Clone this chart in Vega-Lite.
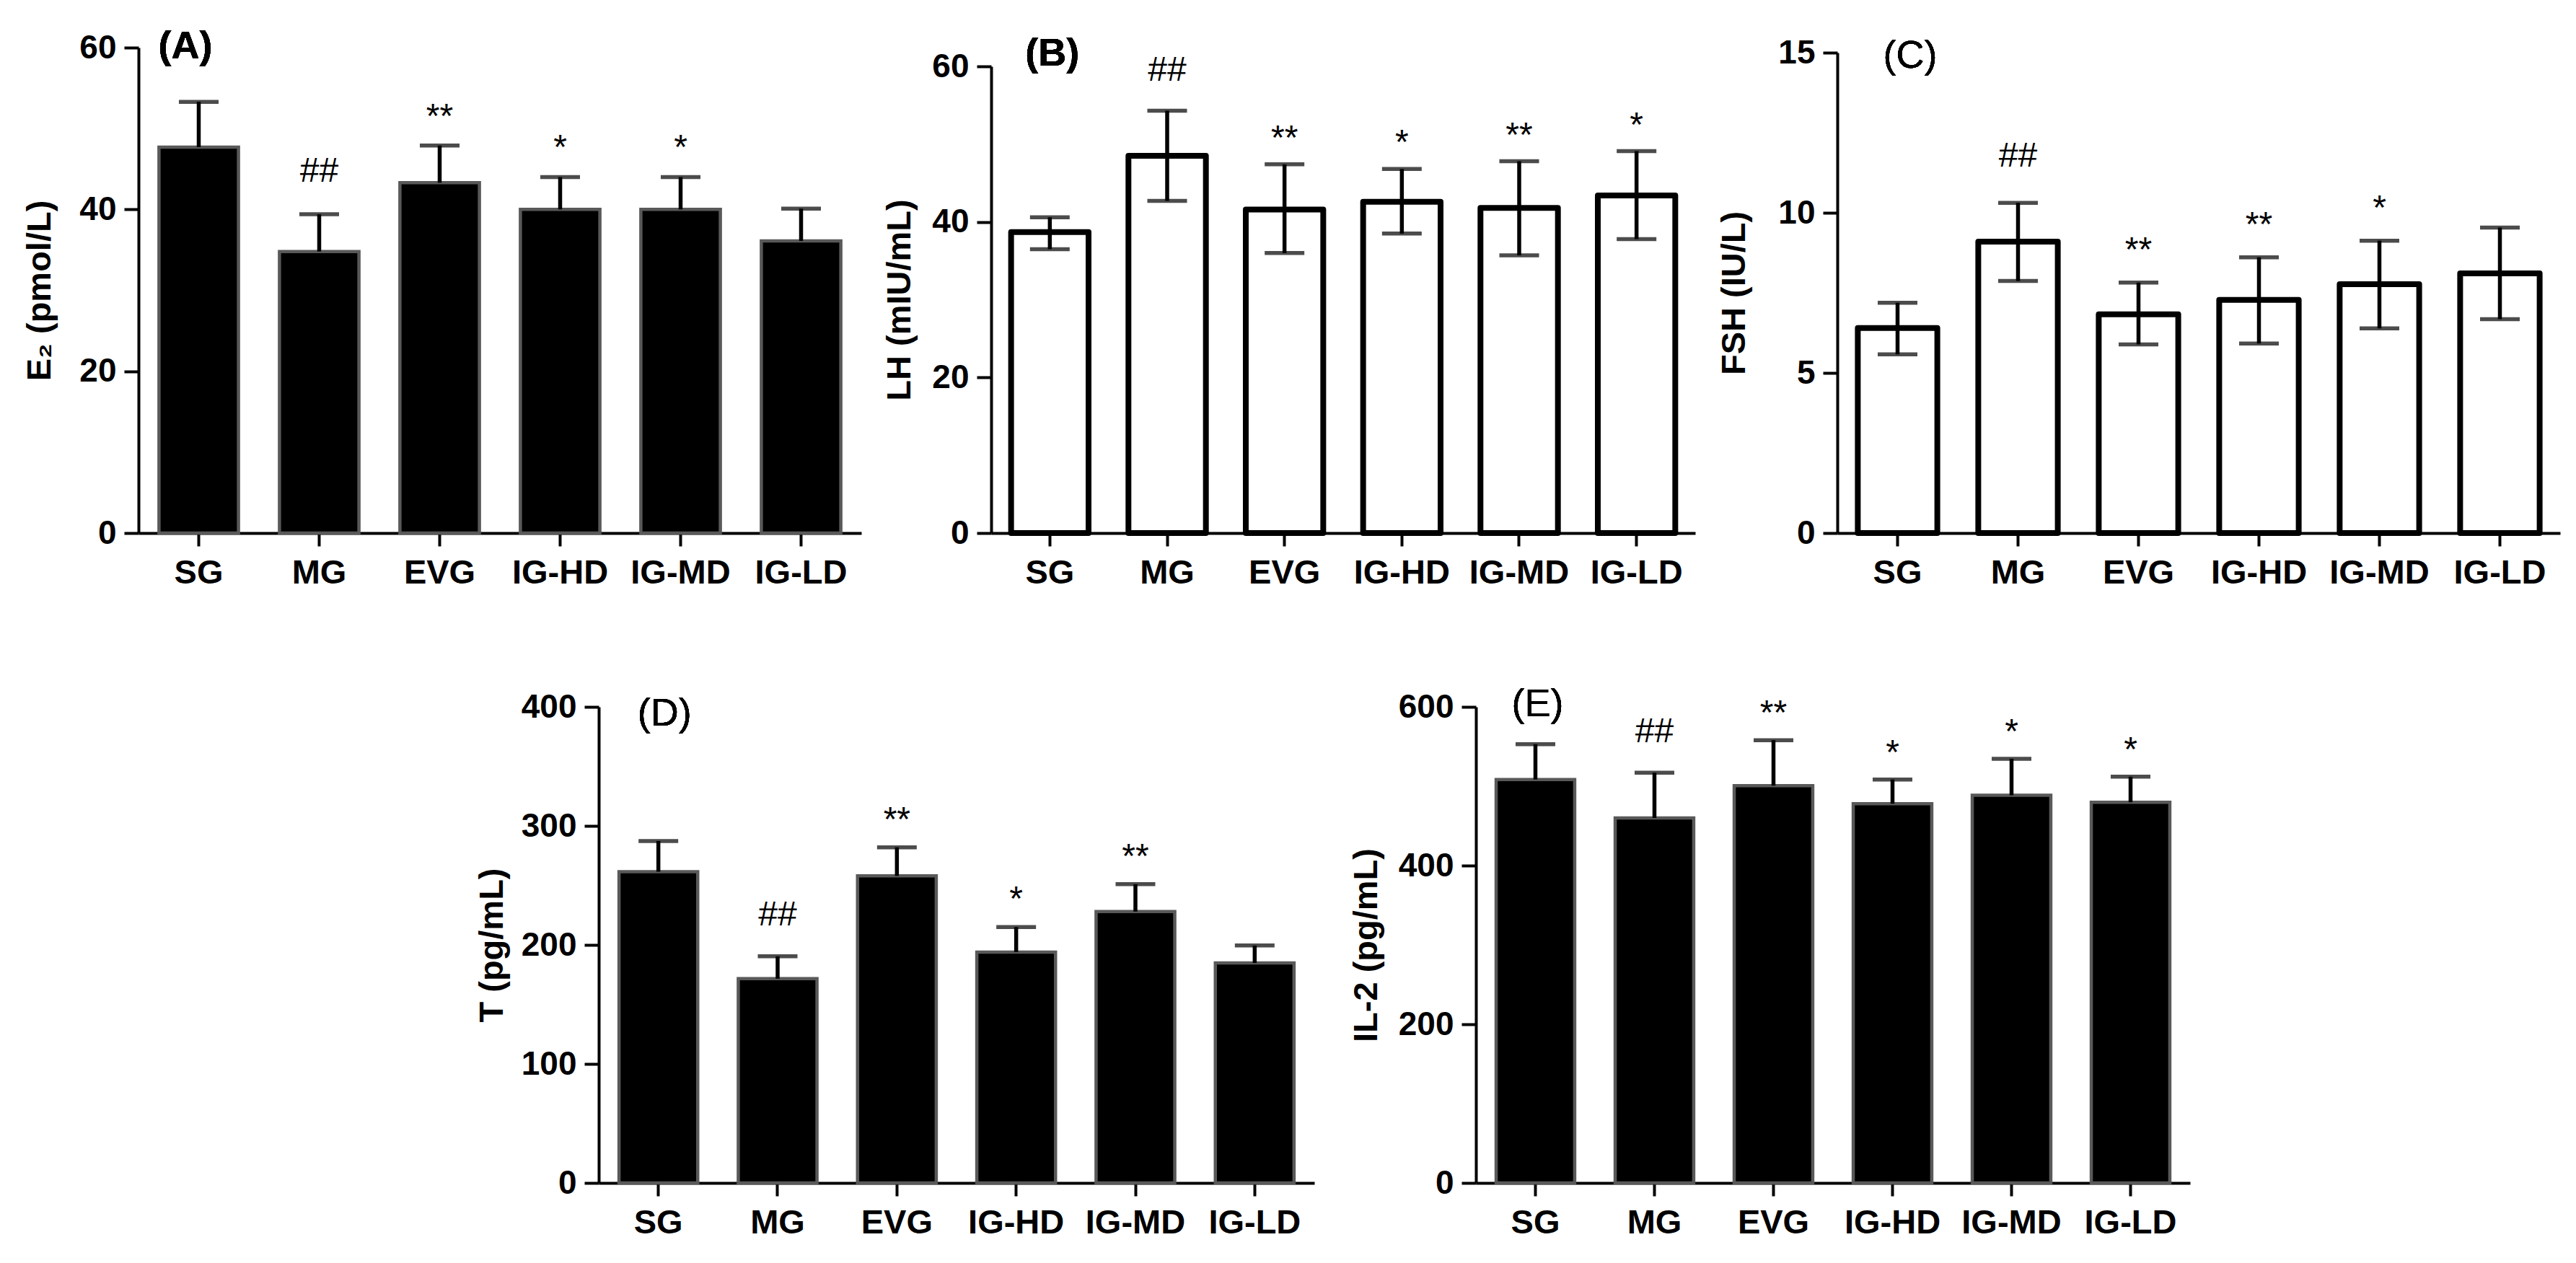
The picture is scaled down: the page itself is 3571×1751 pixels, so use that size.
{
  "$schema": "https://vega.github.io/schema/vega-lite/v6.json",
  "background": "white",
  "padding": {"left": 31, "top": 38, "right": 10, "bottom": 10},
  "datasets": {
    "e2": [
      {"group": "SG", "mean": 47.7, "hi": 53.3, "sig": ""},
      {"group": "MG", "mean": 34.8, "hi": 39.4, "sig": "##"},
      {"group": "EVG", "mean": 43.3, "hi": 47.9, "sig": "**"},
      {"group": "IG-HD", "mean": 40.0, "hi": 44.0, "sig": "*"},
      {"group": "IG-MD", "mean": 40.0, "hi": 44.0, "sig": "*"},
      {"group": "IG-LD", "mean": 36.1, "hi": 40.1, "sig": ""}
    ],
    "lh": [
      {"group": "SG", "mean": 38.7, "lo": 36.5, "hi": 40.6, "sig": ""},
      {"group": "MG", "mean": 48.5, "lo": 42.7, "hi": 54.3, "sig": "##"},
      {"group": "EVG", "mean": 41.6, "lo": 36.0, "hi": 47.4, "sig": "**"},
      {"group": "IG-HD", "mean": 42.6, "lo": 38.5, "hi": 46.8, "sig": "*"},
      {"group": "IG-MD", "mean": 41.8, "lo": 35.7, "hi": 47.8, "sig": "**"},
      {"group": "IG-LD", "mean": 43.4, "lo": 37.8, "hi": 49.1, "sig": "*"}
    ],
    "fsh": [
      {"group": "SG", "mean": 6.40, "lo": 5.58, "hi": 7.19, "sig": ""},
      {"group": "MG", "mean": 9.10, "lo": 7.87, "hi": 10.31, "sig": "##"},
      {"group": "EVG", "mean": 6.83, "lo": 5.89, "hi": 7.82, "sig": "**"},
      {"group": "IG-HD", "mean": 7.28, "lo": 5.92, "hi": 8.61, "sig": "**"},
      {"group": "IG-MD", "mean": 7.77, "lo": 6.39, "hi": 9.13, "sig": "*"},
      {"group": "IG-LD", "mean": 8.11, "lo": 6.68, "hi": 9.54, "sig": ""}
    ],
    "t": [
      {"group": "SG", "mean": 261.5, "hi": 287.3, "sig": ""},
      {"group": "MG", "mean": 171.6, "hi": 190.4, "sig": "##"},
      {"group": "EVG", "mean": 258.0, "hi": 282.0, "sig": "**"},
      {"group": "IG-HD", "mean": 194.0, "hi": 215.0, "sig": "*"},
      {"group": "IG-MD", "mean": 228.0, "hi": 251.0, "sig": "**"},
      {"group": "IG-LD", "mean": 184.8, "hi": 199.5, "sig": ""}
    ],
    "il2": [
      {"group": "SG", "mean": 508.5, "hi": 553.0, "sig": ""},
      {"group": "MG", "mean": 460.0, "hi": 517.0, "sig": "##"},
      {"group": "EVG", "mean": 500.7, "hi": 558.0, "sig": "**"},
      {"group": "IG-HD", "mean": 478.0, "hi": 508.5, "sig": "*"},
      {"group": "IG-MD", "mean": 488.6, "hi": 534.6, "sig": "*"},
      {"group": "IG-LD", "mean": 479.8, "hi": 512.0, "sig": "*"}
    ],
    "blank": [{"k": 0}]
  },
  "columns": 5,
  "align": "each",
  "bounds": "flush",
  "spacing": {"row": 241, "column": 0},
  "concat": [
    {
      "width": 638, "height": 673,
      "data": {"name": "e2"},
      "encoding": {"x": {"field": "group", "type": "nominal", "sort": null, "scale": {"paddingInner": 0.34, "paddingOuter": 0.17, "range": [0, 1002]}, "axis": {"title": null}}},
      "layer": [
        {"mark": {"type": "bar", "fill": "black", "stroke": "#595959", "strokeWidth": 4.5},
         "encoding": {"y": {"field": "mean", "type": "quantitative", "title": "E₂ (pmol/L)", "scale": {"domain": [0, 60], "range": [673, 0], "nice": false}, "axis": {"values": [0, 20, 40, 60], "titlePadding": 30}}}},
        {"mark": {"type": "rule", "color": "black", "strokeWidth": 5.5},
         "encoding": {"y": {"field": "mean", "type": "quantitative", "title": "E₂ (pmol/L)"}, "y2": {"field": "hi"}}},
        {"mark": {"type": "tick", "color": "black", "size": 55, "thickness": 5.5},
         "encoding": {"y": {"field": "hi", "type": "quantitative", "title": "E₂ (pmol/L)"}}},
        {"transform": [{"filter": "datum.sig == '##'"}],
         "mark": {"type": "text", "baseline": "alphabetic", "dy": -45, "fontSize": 48, "color": "black"},
         "encoding": {"y": {"field": "hi", "type": "quantitative", "title": "E₂ (pmol/L)"}, "text": {"field": "sig"}}},
        {"transform": [{"filter": "indexof(datum.sig, '*') >= 0"}],
         "mark": {"type": "text", "baseline": "alphabetic", "dy": -25, "fontSize": 48, "color": "black"},
         "encoding": {"y": {"field": "hi", "type": "quantitative", "title": "E₂ (pmol/L)"}, "text": {"field": "sig"}}},
        {"mark": {"type": "text", "text": "(A)", "align": "left", "baseline": "middle", "dx": -56, "dy": -1, "fontSize": 54, "fontWeight": "bold", "color": "black"},
         "encoding": {"x": {"datum": "SG"}, "y": {"datum": 60}}}
      ]
    },
    {"width": 544, "height": 673, "data": {"name": "blank"}, "mark": {"type": "point", "opacity": 0}, "encoding": {}},
    {
      "width": 672, "height": 673,
      "data": {"name": "lh"},
      "encoding": {"x": {"field": "group", "type": "nominal", "sort": null, "scale": {"paddingInner": 0.34, "paddingOuter": 0.17, "range": [0, 976]}, "axis": {"title": null}}},
      "layer": [
        {"mark": {"type": "bar", "fill": "white", "stroke": "black", "strokeWidth": 8, "strokeJoin": "round"},
         "encoding": {"y": {"field": "mean", "type": "quantitative", "title": "LH (mIU/mL)", "scale": {"domain": [0, 60], "range": [673, 26], "nice": false}, "axis": {"values": [0, 20, 40, 60], "titlePadding": 20}}}},
        {"mark": {"type": "rule", "color": "black", "strokeWidth": 5.5},
         "encoding": {"y": {"field": "lo", "type": "quantitative", "title": "LH (mIU/mL)"}, "y2": {"field": "hi"}}},
        {"mark": {"type": "tick", "color": "black", "size": 55, "thickness": 5.5},
         "encoding": {"y": {"field": "hi", "type": "quantitative", "title": "LH (mIU/mL)"}}},
        {"mark": {"type": "tick", "color": "black", "size": 55, "thickness": 5.5},
         "encoding": {"y": {"field": "lo", "type": "quantitative", "title": "LH (mIU/mL)"}}},
        {"transform": [{"filter": "datum.sig == '##'"}],
         "mark": {"type": "text", "baseline": "alphabetic", "dy": -41, "fontSize": 48, "color": "black"},
         "encoding": {"y": {"field": "hi", "type": "quantitative", "title": "LH (mIU/mL)"}, "text": {"field": "sig"}}},
        {"transform": [{"filter": "indexof(datum.sig, '*') >= 0"}],
         "mark": {"type": "text", "baseline": "alphabetic", "dy": -21, "fontSize": 48, "color": "black"},
         "encoding": {"y": {"field": "hi", "type": "quantitative", "title": "LH (mIU/mL)"}, "text": {"field": "sig"}}},
        {"mark": {"type": "text", "text": "(B)", "align": "left", "baseline": "middle", "dx": -34, "dy": -17, "fontSize": 54, "fontWeight": "bold", "color": "black"},
         "encoding": {"x": {"datum": "SG"}, "y": {"datum": 60}}}
      ]
    },
    {"width": 501, "height": 673, "data": {"name": "blank"}, "mark": {"type": "point", "opacity": 0}, "encoding": {}},
    {
      "width": 1002, "height": 673,
      "data": {"name": "fsh"},
      "encoding": {"x": {"field": "group", "type": "nominal", "sort": null, "scale": {"paddingInner": 0.34, "paddingOuter": 0.17, "range": [0, 1002]}, "axis": {"title": null}}},
      "layer": [
        {"mark": {"type": "bar", "fill": "white", "stroke": "black", "strokeWidth": 8, "strokeJoin": "round"},
         "encoding": {"y": {"field": "mean", "type": "quantitative", "title": "FSH (IU/L)", "scale": {"domain": [0, 15], "range": [673, 7], "nice": false}, "axis": {"values": [0, 5, 10, 15], "titlePadding": 36}}}},
        {"mark": {"type": "rule", "color": "black", "strokeWidth": 5.5},
         "encoding": {"y": {"field": "lo", "type": "quantitative", "title": "FSH (IU/L)"}, "y2": {"field": "hi"}}},
        {"mark": {"type": "tick", "color": "black", "size": 55, "thickness": 5.5},
         "encoding": {"y": {"field": "hi", "type": "quantitative", "title": "FSH (IU/L)"}}},
        {"mark": {"type": "tick", "color": "black", "size": 55, "thickness": 5.5},
         "encoding": {"y": {"field": "lo", "type": "quantitative", "title": "FSH (IU/L)"}}},
        {"transform": [{"filter": "datum.sig == '##'"}],
         "mark": {"type": "text", "baseline": "alphabetic", "dy": -50, "fontSize": 48, "color": "black"},
         "encoding": {"y": {"field": "hi", "type": "quantitative", "title": "FSH (IU/L)"}, "text": {"field": "sig"}}},
        {"transform": [{"filter": "indexof(datum.sig, '*') >= 0"}],
         "mark": {"type": "text", "baseline": "alphabetic", "dy": -30, "fontSize": 48, "color": "black"},
         "encoding": {"y": {"field": "hi", "type": "quantitative", "title": "FSH (IU/L)"}, "text": {"field": "sig"}}},
        {"mark": {"type": "text", "text": "(C)", "align": "left", "baseline": "middle", "dx": -20, "dy": 5, "fontSize": 54, "fontWeight": "normal", "color": "black"},
         "encoding": {"x": {"datum": "SG"}, "y": {"datum": 15}}}
      ]
    },
    {"width": 638, "height": 660, "data": {"name": "blank"}, "mark": {"type": "point", "opacity": 0}, "encoding": {}},
    {
      "width": 544, "height": 660,
      "data": {"name": "t"},
      "encoding": {"x": {"field": "group", "type": "nominal", "sort": null, "scale": {"paddingInner": 0.34, "paddingOuter": 0.17, "range": [0, 992]}, "axis": {"title": null}}},
      "layer": [
        {"mark": {"type": "bar", "fill": "black", "stroke": "#595959", "strokeWidth": 4.5},
         "encoding": {"y": {"field": "mean", "type": "quantitative", "title": "T (pg/mL)", "scale": {"domain": [0, 400], "nice": false}, "axis": {"values": [0, 100, 200, 300, 400], "titlePadding": 16}}}},
        {"mark": {"type": "rule", "color": "black", "strokeWidth": 5.5},
         "encoding": {"y": {"field": "mean", "type": "quantitative", "title": "T (pg/mL)"}, "y2": {"field": "hi"}}},
        {"mark": {"type": "tick", "color": "black", "size": 55, "thickness": 5.5},
         "encoding": {"y": {"field": "hi", "type": "quantitative", "title": "T (pg/mL)"}}},
        {"transform": [{"filter": "datum.sig == '##'"}],
         "mark": {"type": "text", "baseline": "alphabetic", "dy": -43, "fontSize": 48, "color": "black"},
         "encoding": {"y": {"field": "hi", "type": "quantitative", "title": "T (pg/mL)"}, "text": {"field": "sig"}}},
        {"transform": [{"filter": "indexof(datum.sig, '*') >= 0"}],
         "mark": {"type": "text", "baseline": "alphabetic", "dy": -23, "fontSize": 48, "color": "black"},
         "encoding": {"y": {"field": "hi", "type": "quantitative", "title": "T (pg/mL)"}, "text": {"field": "sig"}}},
        {"mark": {"type": "text", "text": "(D)", "align": "left", "baseline": "middle", "dx": -29, "dy": 10, "fontSize": 54, "fontWeight": "normal", "color": "black"},
         "encoding": {"x": {"datum": "SG"}, "y": {"datum": 400}}}
      ]
    },
    {"width": 672, "height": 660, "data": {"name": "blank"}, "mark": {"type": "point", "opacity": 0}, "encoding": {}},
    {
      "width": 501, "height": 660,
      "data": {"name": "il2"},
      "encoding": {"x": {"field": "group", "type": "nominal", "sort": null, "scale": {"paddingInner": 0.34, "paddingOuter": 0.17, "range": [0, 990]}, "axis": {"title": null}}},
      "layer": [
        {"mark": {"type": "bar", "fill": "black", "stroke": "#595959", "strokeWidth": 4.5},
         "encoding": {"y": {"field": "mean", "type": "quantitative", "title": "IL-2 (pg/mL)", "scale": {"domain": [0, 600], "nice": false}, "axis": {"values": [0, 200, 400, 600], "titlePadding": 20}}}},
        {"mark": {"type": "rule", "color": "black", "strokeWidth": 5.5},
         "encoding": {"y": {"field": "mean", "type": "quantitative", "title": "IL-2 (pg/mL)"}, "y2": {"field": "hi"}}},
        {"mark": {"type": "tick", "color": "black", "size": 55, "thickness": 5.5},
         "encoding": {"y": {"field": "hi", "type": "quantitative", "title": "IL-2 (pg/mL)"}}},
        {"transform": [{"filter": "datum.sig == '##'"}],
         "mark": {"type": "text", "baseline": "alphabetic", "dy": -42, "fontSize": 48, "color": "black"},
         "encoding": {"y": {"field": "hi", "type": "quantitative", "title": "IL-2 (pg/mL)"}, "text": {"field": "sig"}}},
        {"transform": [{"filter": "indexof(datum.sig, '*') >= 0"}],
         "mark": {"type": "text", "baseline": "alphabetic", "dy": -22, "fontSize": 48, "color": "black"},
         "encoding": {"y": {"field": "hi", "type": "quantitative", "title": "IL-2 (pg/mL)"}, "text": {"field": "sig"}}},
        {"mark": {"type": "text", "text": "(E)", "align": "left", "baseline": "middle", "dx": -33, "dy": -3, "fontSize": 54, "fontWeight": "normal", "color": "black"},
         "encoding": {"x": {"datum": "SG"}, "y": {"datum": 600}}}
      ]
    },
    {"width": 1, "height": 660, "data": {"name": "blank"}, "mark": {"type": "point", "opacity": 0}, "encoding": {}}
  ],
  "config": {
    "view": {"stroke": null},
    "font": "Liberation Sans, Arial, sans-serif",
    "text": {"font": "Liberation Sans, Arial, sans-serif"},
    "axis": {
      "zindex": 1,
      "grid": false,
      "domainColor": "black",
      "domainWidth": 4,
      "tickColor": "black",
      "tickWidth": 4,
      "labelColor": "black",
      "labelFont": "Liberation Sans, Arial, sans-serif",
      "labelFontWeight": "bold",
      "titleFont": "Liberation Sans, Arial, sans-serif",
      "titleFontWeight": "bold",
      "titleColor": "black"
    },
    "axisX": {"tickSize": 18, "labelFontSize": 47, "labelPadding": 14, "labelAngle": 0},
    "axisY": {"tickSize": 20, "labelFontSize": 46, "labelPadding": 11, "titleFontSize": 47}
  }
}
